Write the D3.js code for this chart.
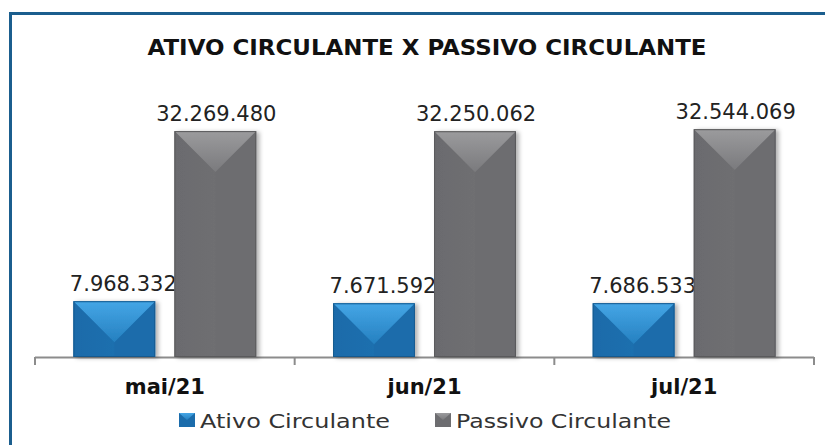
<!DOCTYPE html>
<html>
<head>
<meta charset="utf-8">
<script src="https://cdn.jsdelivr.net/npm/d3@7"></script>
<style>
  body { margin: 0; background: #fff; }
  svg { display: block; }
</style>
</head>
<body>
<div id="chart"></div>
<script>
// chart data
let months = ["mai/21", "jun/21", "jul/21"];
let series = ["Ativo Circulante", "Passivo Circulante"];
let ativo = [7968332, 7671592, 7686533];
let passivo = [32269480, 32250062, 32544069];

let width = 825, height = 445;
let margin = {left: 35, right: 11, top: 77, bottom: 88};

let svg = d3.select("#chart")
    .append("svg")
    .attr("width", width)
    .attr("height", height);

// gradients for the bevel look
let defs = svg.append("defs");
function grad(id, c1, c2, vertical) {
    let g = defs.append("linearGradient").attr("id", id)
        .attr("x1", 0).attr("y1", 0)
        .attr("x2", vertical ? 0 : 1).attr("y2", vertical ? 1 : 0);
    g.append("stop").attr("offset", "0%").attr("stop-color", c1);
    g.append("stop").attr("offset", "100%").attr("stop-color", c2);
}
grad("blueTop", "#45a6e6", "#2580c0", true);
grad("blueSide", "#1a6aa8", "#1d72b2", false);
grad("greyTop", "#9b9b9d", "#7a7a7d", true);
grad("greySide", "#69696c", "#707073", false);

let shadow = defs.append("filter").attr("id", "shadow")
    .attr("x", "-20%").attr("y", "-20%").attr("width", "150%").attr("height", "140%");
shadow.append("feDropShadow").attr("dx", 3).attr("dy", 1).attr("stdDeviation", 2)
    .attr("flood-color", "#000").attr("flood-opacity", 0.3);

// frame (left + top blue edge)
svg.append("path")
    .attr("d", `M10.5,${height} L10.5,13.5 L${width},13.5`)
    .attr("fill", "none")
    .attr("stroke", "#1b5e8e")
    .attr("stroke-width", 3);

// title
svg.append("text")
    .attr("x", 427)
    .attr("y", 55)
    .attr("text-anchor", "middle")
    .style("font-family", "'DejaVu Sans', sans-serif")
    .style("font-weight", "bold")
    .style("font-size", "22px")
    .attr("textLength", 559)
    .attr("lengthAdjust", "spacingAndGlyphs")
    .style("fill", "#111")
    .text("ATIVO CIRCULANTE X PASSIVO CIRCULANTE");

let x = d3.scaleBand()
    .domain(months)
    .range([margin.left, width - margin.right])
    .paddingInner(0)
    .paddingOuter(0);

let xs = d3.scaleBand()
    .domain(series)
    .range([0, x.bandwidth()])
    .paddingInner(0.19)
    .paddingOuter(0.38);

let y = d3.scaleLinear()
    .domain([0, 40000000])
    .range([height - margin.bottom, margin.top]);

// axis
let axis = svg.append("g")
    .attr("transform", `translate(0,${height - margin.bottom})`)
    .call(d3.axisBottom(x).tickSize(0).tickPadding(22));
axis.select(".domain").remove();
axis.selectAll("text")
    .style("font-family", "'DejaVu Sans', sans-serif")
    .style("font-weight", "bold")
    .style("font-size", "21px")
    .style("fill", "#111");

let base = y(0);
let edges = months.map(m => x(m)).concat([x(months[months.length - 1]) + x.bandwidth()]);
svg.append("line")
    .attr("x1", edges[0]).attr("x2", edges[edges.length - 1])
    .attr("y1", base + 0.5).attr("y2", base + 0.5)
    .attr("stroke", "#8c8c8c").attr("stroke-width", 2);
svg.selectAll(".tick-mark")
    .data(edges)
    .join("line")
    .attr("x1", d => d).attr("x2", d => d)
    .attr("y1", base).attr("y2", base + 8)
    .attr("stroke", "#8c8c8c").attr("stroke-width", 2);

let fmt = v => d3.format(",")(v).replace(/,/g, ".");

let bars = [];
months.forEach((m, i) => {
    bars.push({month: m, s: series[0], v: ativo[i]});
    bars.push({month: m, s: series[1], v: passivo[i]});
});

let palette = {
    "Ativo Circulante": {body: "#1b6cab", top: "url(#blueTop)", side: "url(#blueSide)", edge: "#155a8f", dx: 9},
    "Passivo Circulante": {body: "#6d6d70", top: "url(#greyTop)", side: "url(#greySide)", edge: "#5a5a5c", dx: 1}
};

let g = svg.append("g");
bars.forEach(d => {
    let x0 = x(d.month) + xs(d.s);
    let w = xs.bandwidth();
    let y0 = y(d.v);
    let h = base - y0;
    let p = palette[d.s];
    let bg = g.append("g").attr("filter", "url(#shadow)");
    bg.append("rect")
        .attr("x", x0).attr("y", y0)
        .attr("width", w).attr("height", h)
        .attr("fill", p.body);
    let dep = Math.min(w / 2, h);
    // top bevel triangle
    bg.append("path")
        .attr("d", `M${x0},${y0} L${x0 + w},${y0} L${x0 + w / 2},${y0 + dep} Z`)
        .attr("fill", p.top);
    // left half slightly darker
    bg.append("path")
        .attr("d", `M${x0},${y0} L${x0 + w / 2},${y0 + dep} L${x0 + w / 2},${base} L${x0},${base} Z`)
        .attr("fill", p.side)
        .attr("opacity", 0.5);
    bg.append("rect")
        .attr("x", x0 + 0.5).attr("y", y0 + 0.5)
        .attr("width", w - 1).attr("height", h - 1)
        .attr("fill", "none")
        .attr("stroke", p.edge);

    g.append("text")
        .attr("x", x0 + w / 2 + p.dx)
        .attr("y", y0 - 10)
        .attr("text-anchor", "middle")
        .style("font-family", "'DejaVu Sans', sans-serif")
        .style("font-size", "21px")
        .style("fill", "#222")
        .text(fmt(d.v));
});

// legend
let legend = svg.append("g");
let legendX = [179, 435];
let legendW = [190, 215];
series.forEach((s, i) => {
    let lg = legend.append("g").attr("transform", `translate(${legendX[i]},413)`);
    lg.append("rect").attr("width", 16).attr("height", 14)
        .attr("fill", palette[s].body);
    lg.append("path").attr("d", "M0,0 L16,0 L8,7 Z").attr("fill", palette[s].top);
    lg.append("text")
        .attr("x", 21).attr("y", 14.5)
        .attr("textLength", legendW[i])
        .attr("lengthAdjust", "spacingAndGlyphs")
        .style("font-family", "'DejaVu Sans', sans-serif")
        .style("font-size", "20px")
        .style("fill", "#333")
        .text(s);
});
</script>
</body>
</html>
